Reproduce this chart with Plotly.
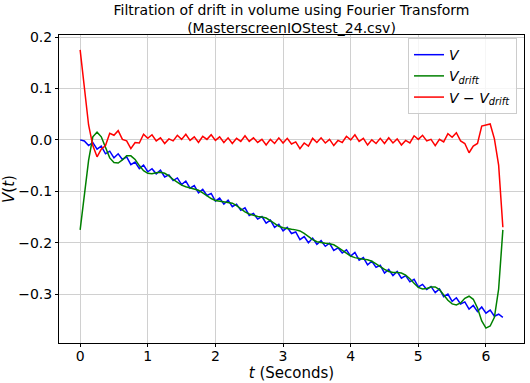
import plotly.graph_objects as go

# time samples (seconds)
t = [i * 0.0625 for i in range(101)]

# measured volume V
V = [0.000, -0.002, -0.011, -0.005, -0.018, -0.012, -0.027, -0.022, -0.035, -0.027,
     -0.038, -0.033, -0.048, -0.043, -0.056, -0.049, -0.062, -0.056, -0.066, -0.059,
     -0.072, -0.068, -0.079, -0.074, -0.087, -0.080, -0.094, -0.089, -0.103, -0.096,
     -0.108, -0.104, -0.119, -0.113, -0.125, -0.117, -0.130, -0.125, -0.137, -0.132,
     -0.147, -0.143, -0.154, -0.149, -0.162, -0.156, -0.170, -0.164, -0.177, -0.170,
     -0.182, -0.179, -0.194, -0.188, -0.200, -0.191, -0.203, -0.196, -0.207, -0.201,
     -0.215, -0.210, -0.220, -0.214, -0.226, -0.219, -0.234, -0.229, -0.243, -0.236,
     -0.248, -0.244, -0.259, -0.252, -0.264, -0.256, -0.269, -0.264, -0.276, -0.271,
     -0.286, -0.281, -0.291, -0.285, -0.297, -0.290, -0.305, -0.300, -0.314, -0.307,
     -0.319, -0.315, -0.329, -0.322, -0.334, -0.325, -0.337, -0.331, -0.343, -0.339,
     -0.345]

# low-frequency (drift) reconstruction
V_drift = [-0.175, -0.108, -0.040, 0.006, 0.015, 0.006, -0.016, -0.035, -0.044, -0.045,
           -0.039, -0.031, -0.031, -0.038, -0.050, -0.060, -0.065, -0.066, -0.064, -0.063,
           -0.065, -0.070, -0.077, -0.083, -0.088, -0.091, -0.093, -0.095, -0.098, -0.103,
           -0.109, -0.114, -0.118, -0.119, -0.120, -0.121, -0.123, -0.128, -0.134, -0.140,
           -0.144, -0.147, -0.149, -0.150, -0.152, -0.157, -0.163, -0.168, -0.171, -0.173,
           -0.174, -0.175, -0.177, -0.182, -0.188, -0.194, -0.198, -0.200, -0.201, -0.202,
           -0.204, -0.209, -0.215, -0.221, -0.226, -0.229, -0.231, -0.232, -0.233, -0.236,
           -0.241, -0.247, -0.252, -0.256, -0.258, -0.258, -0.259, -0.263, -0.270, -0.279,
           -0.287, -0.290, -0.289, -0.286, -0.286, -0.291, -0.301, -0.312, -0.319, -0.321,
           -0.317, -0.308, -0.304, -0.310, -0.327, -0.352, -0.366, -0.362, -0.345, -0.290,
           -0.175]

# filtered signal
V_filtered = [a - b for a, b in zip(V, V_drift)]

x_ticks = [0, 1, 2, 3, 4, 5, 6]
y_ticks = [0.2, 0.1, 0.0, -0.1, -0.2, -0.3]

FONT = "DejaVu Sans"
W, H = 530, 383

fig = go.Figure()
fig.add_trace(go.Scatter(x=t, y=V, mode="lines", name="<i>V</i>",
                         line=dict(color="#0000ff", width=1.5)))
fig.add_trace(go.Scatter(x=t, y=V_drift, mode="lines", name="<i>V</i><sub><i>drift</i></sub>",
                         line=dict(color="#008000", width=1.5)))
fig.add_trace(go.Scatter(x=t, y=V_filtered, mode="lines",
                         name="<i>V</i> − <i>V</i><sub><i>drift</i></sub>",
                         line=dict(color="#ff0000", width=1.5)))

axis_common = dict(
    showline=True, linecolor="black", linewidth=1, mirror=True,
    ticks="outside", ticklen=3, tickcolor="black", tickwidth=1,
    showgrid=True, gridcolor="#d0d0d0", gridwidth=1, zeroline=False,
    tickfont=dict(family=FONT, size=14, color="black"),
    automargin=False,
)

fig.update_layout(
    width=W, height=H,
    paper_bgcolor="white", plot_bgcolor="white",
    margin=dict(l=59, r=6, t=35, b=40, autoexpand=False),
    font=dict(family=FONT, color="black"),
    title=dict(text="Filtration of drift in volume using Fourier Transform<br>(MasterscreenIOStest_24.csv)",
               x=291.5 / W, xanchor="center",
               yref="container", y=1 - 15 / H, yanchor="middle",
               font=dict(family=FONT, size=14, color="black"), automargin=False),
    xaxis=dict(range=[-0.3125, 6.5625], tickvals=x_ticks, ticklabelstandoff=-3,
               title=dict(text="<i>t</i> (Seconds)", font=dict(family=FONT, size=15), standoff=0),
               **axis_common),
    yaxis=dict(range=[-0.395, 0.204], tickvals=y_ticks, tickformat=".1f",
               title=dict(text="<i>V</i>(<i>t</i>)", font=dict(family=FONT, size=15), standoff=5),
               **axis_common),
    legend=dict(x=0.985, y=0.99, xanchor="right", yanchor="top",
                bgcolor="rgba(255,255,255,0.8)", bordercolor="#cccccc", borderwidth=1,
                font=dict(family=FONT, size=14, color="black"),
                itemwidth=30, tracegroupgap=0),
    showlegend=True,
    hovermode=False,
)

fig.write_html("out.html", config={"displayModeBar": False},
               post_script="document.body.style.margin='0px';")
